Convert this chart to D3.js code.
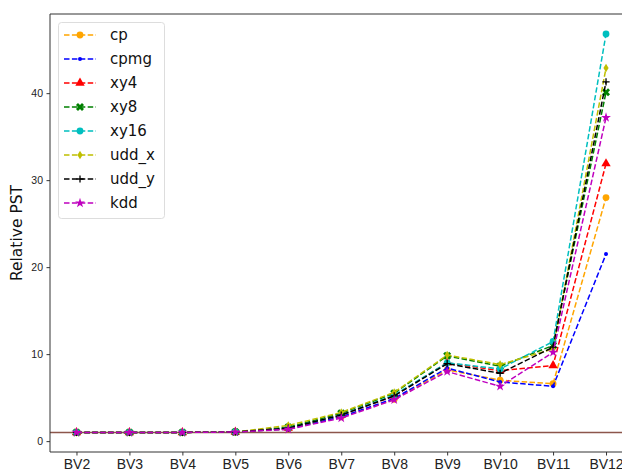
<!DOCTYPE html>
<html><head><meta charset="utf-8">
<script src="https://cdn.jsdelivr.net/npm/d3@7"></script>
<style>body{margin:0;background:#fff;} svg{display:block;font-family:"DejaVu Sans",sans-serif;}</style>
</head><body>
<svg id="c" width="622" height="473"></svg>
<script>
const categories = ["BV2","BV3","BV4","BV5","BV6","BV7","BV8","BV9","BV10","BV11","BV12"];
const cp    = [1.0,1.0,1.0,1.05,1.4,2.8,4.8,8.2,7.0,6.6,28.0];
const cpmg  = [1.0,1.0,1.0,1.05,1.4,2.8,4.9,8.4,6.8,6.3,21.5];
const xy4   = [1.0,1.0,1.0,1.05,1.5,3.0,5.2,9.0,8.1,8.7,31.9];
const xy8   = [1.0,1.0,1.0,1.05,1.6,3.2,5.5,9.8,8.6,11.0,40.1];
const xy16  = [1.0,1.0,1.0,1.05,1.5,3.0,5.3,9.0,8.3,11.45,46.8];
const udd_x = [1.0,1.0,1.0,1.05,1.8,3.3,5.6,9.9,8.8,10.6,42.9];
const udd_y = [1.0,1.0,1.0,1.05,1.5,3.0,5.2,8.9,7.8,10.8,41.3];
const kdd   = [1.0,1.0,1.0,1.05,1.35,2.65,4.75,8.0,6.3,10.2,37.2];
const seriesNames = ["cp","cpmg","xy4","xy8","xy16","udd_x","udd_y","kdd"];
const seriesValues = [cp,cpmg,xy4,xy8,xy16,udd_x,udd_y,kdd];
const colors = ["#FFA500","#0000FF","#FF0000","#008000","#00BFBF","#BFBF00","#000000","#BF00BF"];
const markers = ["circle","point","triangle","x","circle","diamond","plus","star"];
const yTicks = [0,10,20,30,40];
const refLine = 1;

const svg = d3.select("#c");
const L=50, T=14, R=632.5, B=452;
const x = d3.scalePoint().domain(categories).range([L,R]).padding(0.5);
const y = d3.scaleLinear().domain([-1.25,49.1]).range([B,T]);

// reference line
svg.append("line").attr("x1",L).attr("x2",622).attr("y1",y(refLine)).attr("y2",y(refLine))
  .attr("stroke","#8c564b").attr("stroke-width",1.6);

function markerPath(g, type, color){
  const s=3.2;
  if(type==="circle") g.append("circle").attr("r",3.4).attr("fill",color);
  else if(type==="point") g.append("circle").attr("r",2).attr("fill",color);
  else if(type==="triangle") g.append("path").attr("d",d3.symbol(d3.symbolTriangle,38)()).attr("fill",color);
  else if(type==="x") g.append("path").attr("d",d3.symbol(d3.symbolCross,40)()).attr("transform","rotate(45)").attr("fill",color);
  else if(type==="diamond") g.append("path").attr("d","M0,-4.2L2.6,0L0,4.2L-2.6,0Z").attr("fill",color);
  else if(type==="plus") g.append("path").attr("d","M-3.6,0H3.6M0,-3.6V3.6").attr("stroke",color).attr("stroke-width",1.3);
  else if(type==="star") g.append("path").attr("d",d3.symbol(d3.symbolStar,30)()).attr("fill",color);
}

const line = d3.line().x((d,i)=>x(categories[i])).y(d=>y(d));
seriesValues.forEach((vals,k)=>{
  svg.append("path").attr("d",line(vals)).attr("fill","none").attr("stroke",colors[k])
    .attr("stroke-width",1.5).attr("stroke-dasharray","5.5,2.4");
  vals.forEach((v,i)=>{
    const g=svg.append("g").attr("transform",`translate(${x(categories[i])},${y(v)})`);
    markerPath(g,markers[k],colors[k]);
  });
});

// axes
const yAxis = d3.axisLeft(y).tickValues(yTicks).tickSize(3.5).tickPadding(3.5);
const ga = svg.append("g").attr("transform",`translate(${L},0)`).call(yAxis);
ga.select(".domain").remove();
ga.selectAll("text").attr("font-size",10.5).attr("fill","#222");
ga.selectAll("line").attr("stroke","#333");
const xAxis = d3.axisBottom(x).tickSize(3.5).tickPadding(3.5);
const gx = svg.append("g").attr("transform",`translate(0,${B})`).call(xAxis);
gx.select(".domain").remove();
gx.selectAll("text").attr("font-size",14).attr("fill","#222");
gx.selectAll("line").attr("stroke","#333");

// spines
svg.append("line").attr("x1",L).attr("x2",L).attr("y1",T).attr("y2",B).attr("stroke","#333").attr("stroke-width",1);
svg.append("line").attr("x1",L).attr("x2",622).attr("y1",T).attr("y2",T).attr("stroke","#333").attr("stroke-width",1);
svg.append("line").attr("x1",L).attr("x2",622).attr("y1",B).attr("y2",B).attr("stroke","#333").attr("stroke-width",1);

svg.append("text").attr("transform",`translate(22,${(T+B)/2}) rotate(-90)`).attr("text-anchor","middle")
  .attr("font-size",15.5).attr("fill","#111").text("Relative PST");

// legend
const lg = svg.append("g");
lg.append("rect").attr("x",58.5).attr("y",22.5).attr("width",106).attr("height",196).attr("rx",3)
  .attr("fill","#fff").attr("fill-opacity",0.8).attr("stroke","#ddd");
seriesNames.forEach((n,k)=>{
  const yy = 35 + k*24;
  lg.append("line").attr("x1",64).attr("x2",96).attr("y1",yy).attr("y2",yy).attr("stroke",colors[k])
    .attr("stroke-width",1.5).attr("stroke-dasharray","5.5,2.4");
  const g=lg.append("g").attr("transform",`translate(80,${yy})`);
  markerPath(g,markers[k],colors[k]);
  lg.append("text").attr("x",110).attr("y",yy).attr("dy","0.35em").attr("font-size",15).attr("fill","#111").text(n);
});
</script>
</body></html>
